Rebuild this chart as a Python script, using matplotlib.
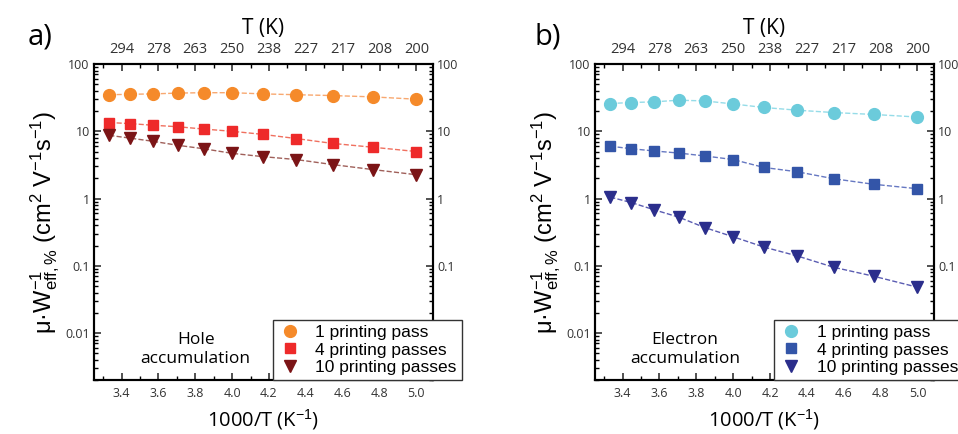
import matplotlib
matplotlib.use('Agg')
import matplotlib.pyplot as plt
from matplotlib.ticker import FuncFormatter, LogLocator, MultipleLocator, NullFormatter

plt.rcParams['font.family'] = ['Open Sans', 'DejaVu Sans']
plt.rcParams['mathtext.fontset'] = 'custom'
plt.rcParams['mathtext.rm'] = 'Liberation Sans'
plt.rcParams['mathtext.it'] = 'Liberation Sans:italic'
plt.rcParams['mathtext.sf'] = 'Liberation Sans'

# temperatures (K) of the measurements
T = [300, 290, 280, 270, 260, 250, 240, 230, 220, 210, 200]
inv_T = [1000.0 / t for t in T]

labels = ['1 printing pass', '4 printing passes', '10 printing passes']

# a) hole accumulation
hole_1 = [35, 35.5, 36, 37, 37.5, 37.5, 36, 35, 34, 32.5, 30]
hole_4 = [13.5, 13.0, 12.3, 11.7, 10.8, 10.0, 9.0, 7.8, 6.6, 5.8, 5.0]
hole_10 = [8.7, 7.9, 7.1, 6.2, 5.5, 4.7, 4.2, 3.8, 3.2, 2.7, 2.26]

# b) electron accumulation
elec_1 = [25.9, 26.8, 27.4, 29.0, 28.3, 25.5, 22.6, 20.6, 19.0, 17.8, 16.3]
elec_4 = [6.0, 5.5, 5.1, 4.75, 4.3, 3.8, 2.9, 2.5, 1.97, 1.63, 1.40]
elec_10 = [1.05, 0.87, 0.68, 0.53, 0.37, 0.27, 0.19, 0.14, 0.095, 0.07, 0.048]

hole_colors = ['#F58A2A', '#EE2A2A', '#7B1416']
hole_lines = ['#F8A870', '#F0705F', '#A0605A']
elec_colors = ['#6BCBDB', '#3355A8', '#2B2E8C']
elec_lines = ['#95DCE8', '#6678C2', '#5A5CB2']
markers = ['o', 's', 'v']
msizes = [8.5, 7.5, 8.5]

fig = plt.figure(figsize=(9.58, 4.34), dpi=100)
ax_a = fig.add_axes([0.098, 0.1244, 0.354, 0.728])
ax_b = fig.add_axes([0.621, 0.1244, 0.354, 0.728])

panels = [
    (ax_a, [hole_1, hole_4, hole_10], hole_colors, hole_lines, 'a)', -0.16, 'Hole\naccumulation', 0.30),
    (ax_b, [elec_1, elec_4, elec_10], elec_colors, elec_lines, 'b)', -0.14, 'Electron\naccumulation', 0.265),
]

for ax, series, cols, lcols, tag, tag_x, note, note_x in panels:
    handles = []
    for vals, c, lc, m, ms, lab in zip(series, cols, lcols, markers, msizes, labels):
        ax.plot(inv_T, vals, '--', color=lc, lw=1.0, zorder=2)
        h, = ax.plot(inv_T, vals, m, color=c, ms=ms, mec=c, ls='none', label=lab, zorder=3)
        handles.append(h)

    ax.set_yscale('log')
    ax.set_ylim(0.002, 100)
    ax.set_xlim(3.25, 5.09)
    ax.xaxis.set_major_locator(MultipleLocator(0.2))
    ax.xaxis.set_minor_locator(MultipleLocator(0.1))
    ax.xaxis.set_major_formatter(FuncFormatter(lambda v, p: f'{v:.1f}'))
    ax.yaxis.set_major_locator(LogLocator(base=10, numticks=10))
    ax.yaxis.set_minor_locator(LogLocator(base=10, subs=range(2, 10), numticks=10))
    ax.yaxis.set_major_formatter(FuncFormatter(lambda v, p: f'{v:g}'))
    ax.yaxis.set_minor_formatter(NullFormatter())
    ax.tick_params(axis='both', which='major', direction='in', length=5, width=1.2,
                   labelsize=9, colors='#333333', right=True, labelright=True)
    ax.tick_params(axis='both', which='minor', direction='in', length=3, width=1.0, right=True)
    ax.tick_params(axis='x', which='both', top=False, pad=5)
    ax.tick_params(axis='y', which='major', pad=3)
    for sp in ax.spines.values():
        sp.set_linewidth(1.5)

    # top axis in T (K)
    top = ax.twiny()
    top.set_xlim(ax.get_xlim())
    top.xaxis.set_major_locator(MultipleLocator(0.2))
    top.xaxis.set_minor_locator(MultipleLocator(0.1))
    top.xaxis.set_major_formatter(FuncFormatter(lambda v, p: f'{1000.0 / v:.0f}'))
    top.tick_params(axis='x', which='major', direction='in', length=5, width=1.2,
                    labelsize=10.5, colors='#333333', pad=5)
    top.tick_params(axis='x', which='minor', direction='in', length=3, width=1.0)
    top.set_xlabel('T (K)', fontsize=15, labelpad=6)
    for sp in top.spines.values():
        sp.set_linewidth(1.5)

    ax.set_xlabel('1000/T (K$^{-1}$)', fontsize=14.5, labelpad=5)
    ax.set_ylabel('μ·W$^{-1}_{\\mathrm{eff,\\%}}$ (cm$^2$ V$^{-1}$s$^{-1}$)',
                  fontsize=17, family='Liberation Sans', labelpad=2)

    ax.text(note_x, 0.095, note, transform=ax.transAxes, ha='center', va='center',
            fontsize=12.5, linespacing=1.25, zorder=4)
    ax.text(tag_x, 1.085, tag, transform=ax.transAxes, ha='center', va='center', fontsize=21)

    leg = top.legend(handles=handles, loc='lower left', bbox_to_anchor=(0.528, 0.0),
                     bbox_transform=ax.transAxes, borderaxespad=0, frameon=True,
                     fancybox=False, edgecolor='#333333', framealpha=1.0,
                     prop={'family': 'Liberation Sans', 'size': 12.5},
                     handletextpad=0.75, borderpad=0.3, labelspacing=0.12, handlelength=1.4)
    leg.get_frame().set_linewidth(1.0)
    leg.set_zorder(10)

fig.savefig('out.png', dpi=100)
